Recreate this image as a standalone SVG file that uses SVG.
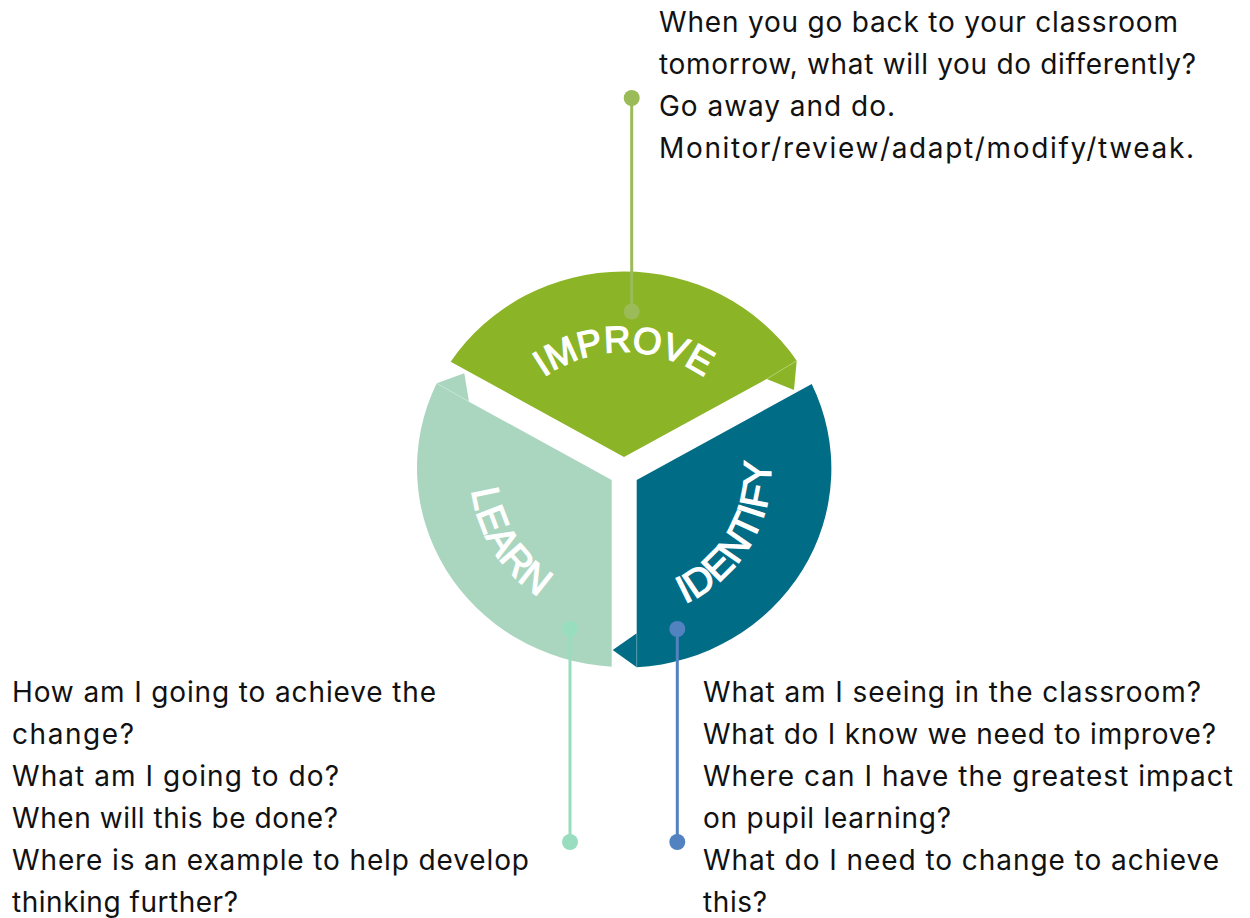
<svg xmlns="http://www.w3.org/2000/svg" width="1250" height="918" viewBox="0 0 1250 918">
<style>
.q{font-family:Inter,"Open Sans",sans-serif;font-size:28px;fill:#111111}
.lbl{font-family:"Liberation Sans",Arial,sans-serif;font-size:39px;font-weight:normal;fill:#ffffff;stroke:#ffffff;stroke-width:1.3}
.lbl.sm{font-size:37px}
.fold{stroke:#ffffff;stroke-opacity:0.35;stroke-width:1;fill:none}
</style>
<defs>
<path id="arcImprove" d="M 502.8 422 A 140 140 0 0 1 745.2 422"/>
<path id="arcLearn" d="M 500 381 A 150 150 0 0 0 650 617.7"/>
<path id="arcIdentify" d="M 598.5 614.8 A 147 147 0 0 0 739.8 379.5"/>
</defs>
<rect width="1250" height="918" fill="#ffffff"/>

<g id="improve">
<path d="M 624 457 L 450.7 361.7 A 207 199 0 0 1 796.7 360.7 L 794 390 L 766.7 379 Z" fill="#8BB526"/>
<line class="fold" x1="766.7" y1="379" x2="796.7" y2="360.7"/>
<text class="lbl sm"><textPath href="#arcImprove" startOffset="50%" text-anchor="middle">IMPROVE</textPath></text>
</g>

<g id="learn">
<path d="M 611.7 480 L 611.7 666.7 A 207 199 0 0 1 436.7 383.3 L 464.3 373.3 L 469 401.7 Z" fill="#AAD6C0"/>
<line class="fold" x1="436.7" y1="383.3" x2="469" y2="401.7"/>
<text class="lbl"><textPath href="#arcLearn" startOffset="50%" text-anchor="middle">LEARN</textPath></text>
</g>

<g id="identify">
<path d="M 636.7 480 L 811.7 384 A 207 199 0 0 1 636.7 667.3 L 612.7 650 L 636.7 633.3 Z" fill="#006C86"/>
<line class="fold" x1="636.7" y1="633.3" x2="636.7" y2="667.3"/>
<text class="lbl"><textPath href="#arcIdentify" startOffset="50%" text-anchor="middle">IDENTIFY</textPath></text>
</g>

<g id="connectors">
<line x1="631.7" y1="98" x2="631.7" y2="311.5" stroke="#9BBB59" stroke-width="3"/>
<circle cx="631.7" cy="98" r="8" fill="#9BBB59"/>
<circle cx="631.7" cy="311.5" r="8" fill="#9BBB59"/>
<line x1="570" y1="629" x2="570" y2="842" stroke="#99DDBF" stroke-width="3"/>
<circle cx="570" cy="629" r="8" fill="#99DDBF"/>
<circle cx="570" cy="842" r="8" fill="#99DDBF"/>
<line x1="677.3" y1="629" x2="677.3" y2="842" stroke="#5382C0" stroke-width="3"/>
<circle cx="677.3" cy="629" r="8" fill="#5382C0"/>
<circle cx="677.3" cy="842" r="8" fill="#5382C0"/>
</g>

<g id="improve-text" class="q">
<text x="659" y="32" textLength="519" lengthAdjust="spacing">When you go back to your classroom</text>
<text x="659" y="74" textLength="537" lengthAdjust="spacing">tomorrow, what will you do differently?</text>
<text x="659" y="116" textLength="236" lengthAdjust="spacing">Go away and do.</text>
<text x="659" y="158" textLength="535" lengthAdjust="spacing">Monitor/review/adapt/modify/tweak.</text>
</g>

<g id="learn-text" class="q">
<text x="12" y="702" textLength="424" lengthAdjust="spacing">How am I going to achieve the</text>
<text x="12" y="744" textLength="122" lengthAdjust="spacing">change?</text>
<text x="12" y="786" textLength="327" lengthAdjust="spacing">What am I going to do?</text>
<text x="12" y="828" textLength="326" lengthAdjust="spacing">When will this be done?</text>
<text x="12" y="870" textLength="517" lengthAdjust="spacing">Where is an example to help develop</text>
<text x="12" y="912" textLength="226" lengthAdjust="spacing">thinking further?</text>
</g>

<g id="identify-text" class="q">
<text x="703" y="702" textLength="498" lengthAdjust="spacing">What am I seeing in the classroom?</text>
<text x="703" y="744" textLength="513" lengthAdjust="spacing">What do I know we need to improve?</text>
<text x="703" y="786" textLength="530" lengthAdjust="spacing">Where can I have the greatest impact</text>
<text x="703" y="828" textLength="248" lengthAdjust="spacing">on pupil learning?</text>
<text x="703" y="870" textLength="516" lengthAdjust="spacing">What do I need to change to achieve</text>
<text x="703" y="912" textLength="64" lengthAdjust="spacing">this?</text>
</g>
</svg>
